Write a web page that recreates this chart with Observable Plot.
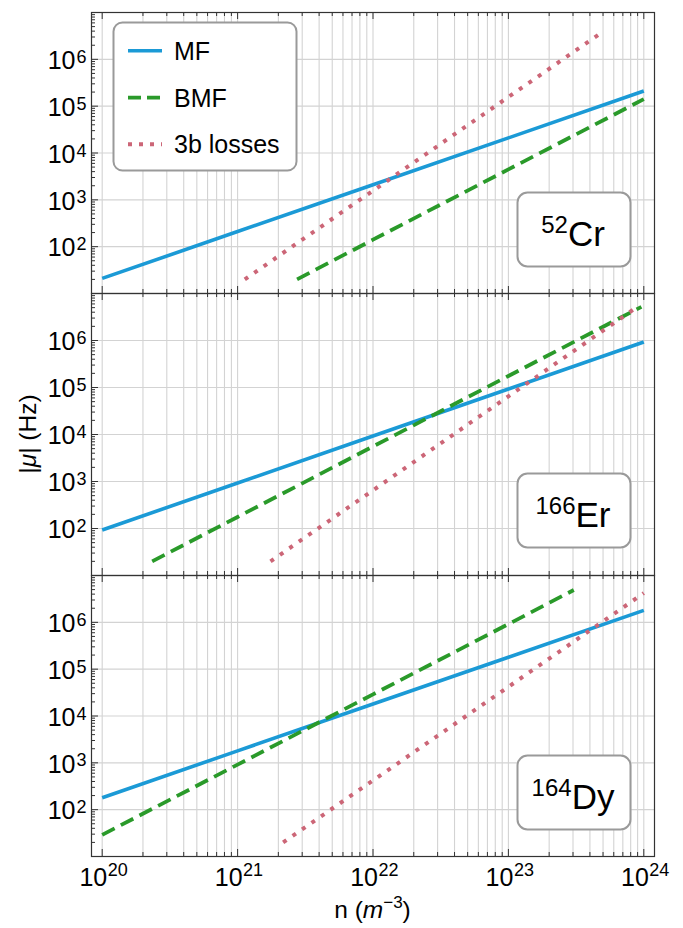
<!DOCTYPE html>
<html>
<head>
<meta charset="utf-8">
<script src="https://cdn.jsdelivr.net/npm/d3@7"></script>
<script src="https://cdn.jsdelivr.net/npm/@observablehq/plot@0.6"></script>
<style>
  html, body { margin: 0; padding: 0; background: #fff; }
  #chart { width: 683px; height: 928px; }
  #chart svg { display: block; }
</style>
</head>
<body>
<div id="chart"></div>
<script>
// ---------- data ----------
const panelKeys   = ["Cr", "Er", "Dy"];
const massNumbers = ["52", "166", "164"];
const elements    = ["Cr", "Er", "Dy"];
const seriesNames = ["MF", "BMF", "3b losses"];

// mean-field |mu| (Hz) vs density n (m^-3)
const mfN  = [1e20, 1e21, 1e22, 1e23, 1e24];
const mfCr = [21, 210, 2100, 21000, 210000];
const mfEr = [93, 930, 9300, 93000, 930000];
const mfDy = [180, 1800, 18000, 180000, 1800000];

// beyond-mean-field
const bmfNCr = [2.75e21, 1e22, 1e23, 1e24];
const bmfCr  = [20, 141, 4460, 141000];
const bmfNEr = [2.34e20, 1e21, 1e22, 1e23, 9.6e23];
const bmfEr  = [20, 176, 5560, 176000, 5.2e6];
const bmfNDy = [1e20, 1e21, 1e22, 1e23, 3.04e23];
const bmfDy  = [29, 917, 29000, 917000, 4.9e6];

// three-body losses
const lossNCr = [1.13e21, 1e22, 1e23, 5e23];
const lossCr  = [20, 1567, 156700, 3.92e6];
const lossNEr = [1.75e21, 1e22, 1e23, 9e23];
const lossEr  = [20, 649, 64900, 5.25e6];
const lossNDy = [2.17e21, 1e22, 1e23, 1e24];
const lossDy  = [20, 420, 42000, 4.2e6];

// ticks
const xMajor = [1e20, 1e21, 1e22, 1e23, 1e24];
const xMajorExp = ["20", "21", "22", "23", "24"];
const yMajor = [1e2, 1e3, 1e4, 1e5, 1e6];
const yMajorExp = ["2", "3", "4", "5", "6"];
const minorMult = [2, 3, 4, 5, 6, 7, 8, 9];

// ---------- build tables ----------
const toRows = (ns, vs) => ns.map((n, j) => ({n, mu: vs[j]}));
const panelData = {
  Cr: {mf: toRows(mfN, mfCr), bmf: toRows(bmfNCr, bmfCr), loss: toRows(lossNCr, lossCr)},
  Er: {mf: toRows(mfN, mfEr), bmf: toRows(bmfNEr, bmfEr), loss: toRows(lossNEr, lossEr)},
  Dy: {mf: toRows(mfN, mfDy), bmf: toRows(bmfNDy, bmfDy), loss: toRows(lossNDy, lossDy)}
};
const xMinor = xMajor.slice(0, 4).flatMap(d => minorMult.map(k => k * d));
const yMinor = [10, ...yMajor].flatMap(d => minorMult.map(k => k * d));

// ---------- style ----------
const FONT = "'Liberation Sans', Arial, Helvetica, sans-serif";
const BLUE = "#1b9ad6", GREEN = "#2a9a2a", PINK = "#cc6677";
const GRID = "#d3d3d3", TICK = "#333";
const W = 683, ML = 91, MR = 29, innerW = W - ML - MR;
const X_DOMAIN = [10 ** 19.921, 10 ** 24.079];
const Y_DOMAIN = [10, 1e7];
const styles = {
  MF:  {stroke: BLUE, strokeWidth: 3.6, strokeDasharray: null},
  BMF: {stroke: GREEN, strokeWidth: 3.8, strokeDasharray: "14,7"},
  "3b losses": {stroke: PINK, strokeWidth: 4, strokeDasharray: "4,7.5"}
};

function legendMark() {
  return (index, scales, values, dims) => {
    const g = d3.create("svg:g").attr("font-family", FONT);
    const rowsY = [50.7, 97.7, 144.3];
    seriesNames.forEach((s, k) => {
      const st = styles[s];
      g.append("line")
        .attr("x1", 128).attr("x2", 162).attr("y1", rowsY[k]).attr("y2", rowsY[k])
        .attr("stroke", st.stroke).attr("stroke-width", st.strokeWidth)
        .attr("stroke-dasharray", s === "BMF" ? "13,6" : s === "3b losses" ? "4,7" : null);
      g.append("text").attr("x", 174).attr("y", rowsY[k] + 8.8)
        .attr("text-anchor", "start")
        .attr("font-size", 25).attr("fill", "#000").text(s);
    });
    return g.node();
  };
}

function labelMark(i) {
  return (index, scales, values, dims) => {
    const g = d3.create("svg:g");
    const t = g.append("text").attr("x", 573).attr("y", dims.marginTop + 233.5)
      .attr("text-anchor", "middle").attr("font-family", FONT).attr("fill", "#000");
    t.append("tspan").attr("font-size", 24).attr("dy", -12.5).text(massNumbers[i]);
    t.append("tspan").attr("font-size", 35).attr("dy", 12.5).text(elements[i]);
    return g.node();
  };
}

function yLabelMark() {
  return (index, scales, values, dims) => {
    const g = d3.create("svg:g");
    const t = g.append("text")
      .attr("transform", `translate(36,${dims.marginTop + (dims.height - dims.marginTop - dims.marginBottom) / 2}) rotate(-90)`)
      .attr("text-anchor", "middle").attr("font-family", FONT).attr("font-size", 24.5).attr("fill", "#000");
    t.append("tspan").text("|");
    t.append("tspan").attr("font-style", "italic").text("μ");
    t.append("tspan").text("| (Hz)");
    return g.node();
  };
}

function xLabelMark() {
  return (index, scales, values, dims) => {
    const g = d3.create("svg:g");
    const t = g.append("text").attr("x", ML + innerW / 2).attr("y", dims.height - dims.marginBottom + 62)
      .attr("text-anchor", "middle").attr("font-family", FONT).attr("font-size", 24.5).attr("fill", "#000");
    t.append("tspan").text("n (");
    t.append("tspan").attr("font-style", "italic").text("m");
    t.append("tspan").attr("font-size", 17).attr("dy", -10).text("−3");
    t.append("tspan").attr("dy", 10).text(")");
    return g.node();
  };
}

function makePanel(i, top, innerH, bottom) {
  const key = panelKeys[i];
  const d = panelData[key];
  const marks = [
    Plot.ruleX(xMinor, {stroke: GRID, strokeWidth: 1.1}),
    Plot.ruleX(xMajor, {stroke: GRID, strokeWidth: 1.1}),
    Plot.ruleY(yMajor, {stroke: GRID, strokeWidth: 1.1}),
    // inward ticks
    Plot.tickY(yMinor, {y: v => v, insetRight: innerW - 4, stroke: TICK, strokeWidth: 1}),
    Plot.tickY(yMajor, {y: v => v, insetRight: innerW - 7, stroke: TICK, strokeWidth: 1}),
    Plot.tickX(xMinor, {x: v => v, insetTop: innerH - 4, stroke: TICK, strokeWidth: 1}),
    Plot.tickX(xMajor, {x: v => v, insetTop: innerH - 7, stroke: TICK, strokeWidth: 1}),
    Plot.tickX(xMinor, {x: v => v, insetBottom: innerH - 4, stroke: TICK, strokeWidth: 1}),
    Plot.tickX(xMajor, {x: v => v, insetBottom: innerH - 7, stroke: TICK, strokeWidth: 1}),
    // series
    Plot.line(d.mf,   {x: "n", y: "mu", ...styles.MF, strokeLinecap: "butt"}),
    Plot.line(d.bmf,  {x: "n", y: "mu", ...styles.BMF, strokeLinecap: "butt"}),
    Plot.line(d.loss, {x: "n", y: "mu", ...styles["3b losses"], strokeLinecap: "butt"}),
    Plot.frame({stroke: "#333", strokeWidth: 1.2}),
    // element label box
    Plot.frame({insetLeft: 426, insetRight: 24, insetTop: 180, insetBottom: innerH - 254,
                rx: 10, fill: "white", stroke: "#9a9a9a", strokeWidth: 2}),
    labelMark(i),
    // y tick labels 10^k
    Plot.text(yMajor, {y: v => v, frameAnchor: "left", text: () => "10", textAnchor: "end",
                       lineAnchor: "bottom", dx: -16, dy: 9.7, fontSize: 25}),
    Plot.text(yMajor, {y: v => v, frameAnchor: "left", text: (v, j) => yMajorExp[j], textAnchor: "start",
                       lineAnchor: "bottom", dx: -15, dy: 3.5, fontSize: 18})
  ];
  if (i === 0) {
    marks.push(Plot.frame({insetLeft: 22, insetRight: innerW - (296 - ML), insetTop: 10, insetBottom: innerH - 158,
                           rx: 9, fill: "white", stroke: "#9a9a9a", strokeWidth: 2}));
    marks.push(legendMark());
  }
  if (i === 1) marks.push(yLabelMark());
  if (i === 2) {
    marks.push(Plot.text(xMajor, {x: v => v, frameAnchor: "bottom", text: () => "10", textAnchor: "end",
                                  lineAnchor: "bottom", dx: 5, dy: 29, fontSize: 25}));
    marks.push(Plot.text(xMajor, {x: v => v, frameAnchor: "bottom", text: (v, j) => xMajorExp[j], textAnchor: "start",
                                  lineAnchor: "bottom", dx: 5.5, dy: 19, fontSize: 18}));
    marks.push(xLabelMark());
  }
  return Plot.plot({
    width: W,
    height: top + innerH + bottom,
    marginTop: top, marginBottom: bottom, marginLeft: ML, marginRight: MR,
    style: {fontFamily: FONT, background: "transparent", overflow: "visible", color: "#000"},
    x: {type: "log", domain: X_DOMAIN, axis: null},
    y: {type: "log", domain: Y_DOMAIN, axis: null},
    marks
  });
}

const chart = document.getElementById("chart");
chart.append(makePanel(0, 12, 281, 0));
chart.append(makePanel(1, 0, 282, 0));
chart.append(makePanel(2, 0, 281, 72));
</script>
</body>
</html>
